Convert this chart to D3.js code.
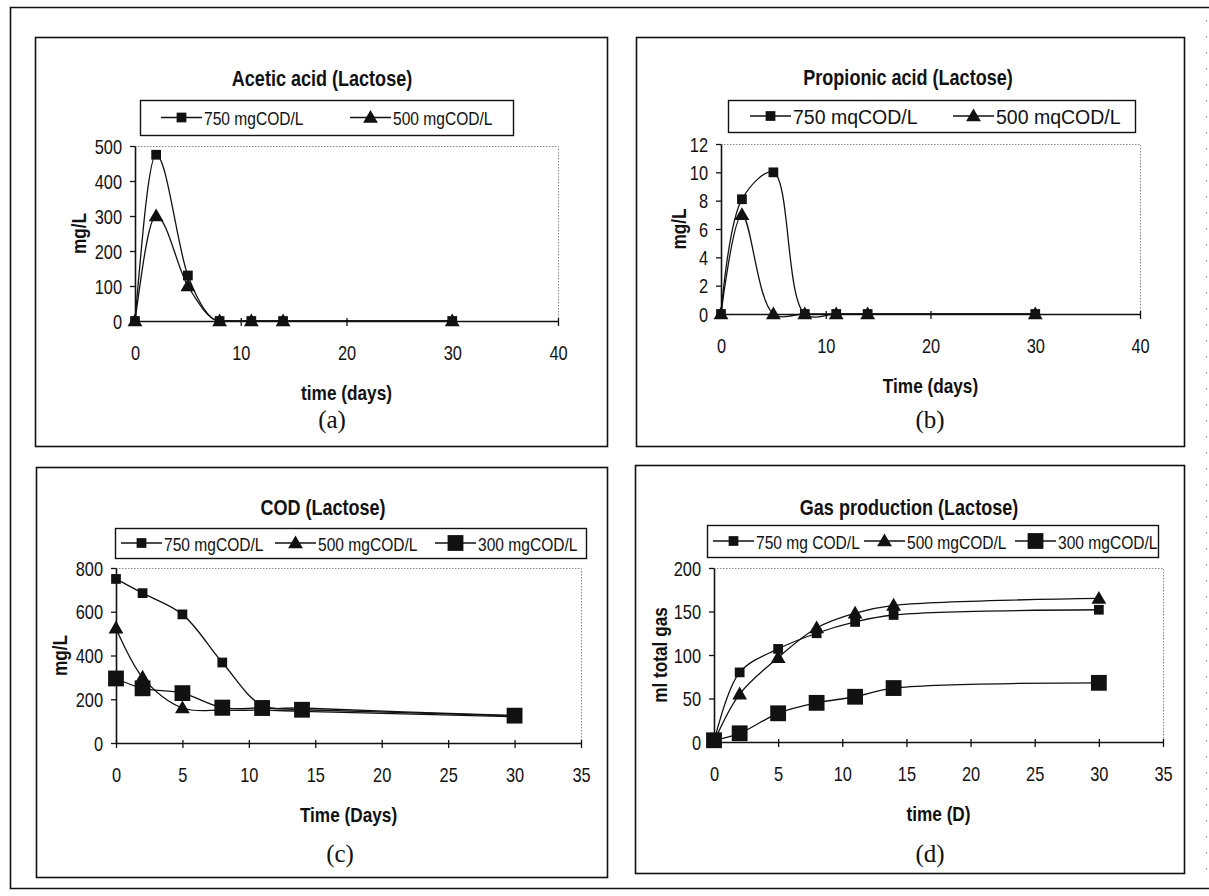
<!DOCTYPE html>
<html>
<head>
<meta charset="utf-8">
<script src="https://cdn.jsdelivr.net/npm/d3@7"></script>
<style>
  html, body { margin: 0; padding: 0; background: #fff; }
  svg { display: block; }
</style>
</head>
<body>
<svg id="fig" width="1209" height="896"></svg>
<script>
// Sampling days shared by every series
const days = [0, 2, 5, 8, 11, 14, 30];

// (a) acetic acid, mg/L
const acetic750 = [0, 475, 130, 0, 0, 0, 0];
const acetic500 = [0, 300, 100, 0, 0, 0, 0];

// (b) propionic acid, mg/L
const propionic750 = [0, 8.1, 10, 0, 0, 0, 0];
const propionic500 = [0, 7, 0, 0, 0, 0, 0];

// (c) COD, mg/L
const cod750 = [750, 685, 588, 368, 172, 160, 125];
const cod500 = [525, 300, 160, 150, 150, 145, 120];
const cod300 = [295, 250, 228, 162, 160, 152, 125];

// (d) cumulative gas, ml
const gas750 = [0, 80, 107, 125, 138, 146, 152];
const gas500 = [0, 55, 97, 131, 148, 157, 165];
const gas300 = [2, 10, 33, 45, 52, 62, 68];

// Axis tick values
const ticksAcetic = [0, 100, 200, 300, 400, 500];
const ticksPropionic = [0, 2, 4, 6, 8, 10, 12];
const ticksCod = [0, 200, 400, 600, 800];
const ticksGas = [0, 50, 100, 150, 200];
const ticksDays40 = [0, 10, 20, 30, 40];
const ticksDays35 = [0, 5, 10, 15, 20, 25, 30, 35];

// Legend entries
const legendAcetic = ["750 mgCOD/L", "500 mgCOD/L"];
const legendPropionic = ["750 mqCOD/L", "500 mqCOD/L"];
const legendCod = ["750 mgCOD/L", "500 mgCOD/L", "300 mgCOD/L"];
const legendGas = ["750 mg COD/L", "500 mgCOD/L", "300 mgCOD/L"];

// Marker kind per series position
const markerKinds = ["square", "triangle", "bigSquare"];

const SANS = "'Liberation Sans', Arial, sans-serif";
const SERIF = "'Liberation Serif', 'Times New Roman', serif";
const NARROW = 0.82; // horizontal squeeze giving an Arial Narrow look

const svg = d3.select("#fig");

function label(g, str, x, y, o) {
  const tr = `translate(${x},${y})` + (o.rotate ? ` rotate(${o.rotate})` : "") + ` scale(${o.sx || 1},1)`;
  return g.append("g").attr("transform", tr)
    .append("text")
    .attr("text-anchor", o.anchor || "middle")
    .attr("dy", "0.35em")
    .attr("font-family", o.family || SANS)
    .attr("font-size", o.size)
    .attr("font-weight", o.weight || "normal")
    .attr("fill", "#111")
    .text(str);
}

function marker(g, kind, cx, cy) {
  const sym = kind === "triangle" ? d3.symbolTriangle : d3.symbolSquare;
  const size = kind === "triangle" ? 95 : (kind === "bigSquare" ? 250 : 95);
  g.append("path")
    .attr("d", d3.symbol(sym, size)())
    .attr("transform", `translate(${cx},${kind === "triangle" ? cy + 1 : cy})`)
    .attr("fill", "#111");
}

// Outer frame: top, left, bottom solid; right edge faint
svg.append("path")
  .attr("d", "M1209,7.5 H10.5 V888.5 H1209")
  .attr("fill", "none").attr("stroke", "#111").attr("stroke-width", 1.6);
svg.append("line")
  .attr("x1", 1206.5).attr("x2", 1206.5).attr("y1", 20).attr("y2", 880)
  .attr("stroke", "#aaa").attr("stroke-width", 1).attr("stroke-dasharray", "2,14");

const panels = [
  {
    title: "Acetic acid (Lactose)", tag: "(a)", yLabel: "mg/L", xLabel: "time (days)",
    series: [acetic750, acetic500], legend: legendAcetic,
    yTicks: ticksAcetic, xTicks: ticksDays40, curve: d3.curveMonotoneX,
    frame: [35, 37, 607, 446], plot: [135, 146, 558, 321],
    titleXY: [322, 78], tagXY: [332, 419], yLabelX: 79,
    legendBox: [140, 100, 513, 135], legendStarts: [161, 350], legendSize: 19, legendSx: NARROW
  },
  {
    title: "Propionic acid (Lactose)", tag: "(b)", yLabel: "mg/L", xLabel: "Time (days)",
    series: [propionic750, propionic500], legend: legendPropionic,
    yTicks: ticksPropionic, xTicks: ticksDays40, curve: d3.curveCatmullRom.alpha(0.5),
    frame: [636, 37, 1184, 446], plot: [721, 144, 1140, 314],
    titleXY: [908, 77], tagXY: [930, 419], yLabelX: 679,
    legendBox: [728, 100, 1135, 132], legendStarts: [750, 953], legendSize: 19.5, legendSx: 1
  },
  {
    title: "COD (Lactose)", tag: "(c)", yLabel: "mg/L", xLabel: "Time (Days)",
    series: [cod750, cod500, cod300], legend: legendCod,
    yTicks: ticksCod, xTicks: ticksDays35, curve: d3.curveCatmullRom.alpha(0.5),
    frame: [36, 467, 607, 877], plot: [116, 568, 581, 743],
    titleXY: [323, 507], tagXY: [340, 853], yLabelX: 60,
    legendBox: [115, 528, 586, 558], legendStarts: [121, 275, 435], legendSize: 19, legendSx: NARROW
  },
  {
    title: "Gas production (Lactose)", tag: "(d)", yLabel: "ml total gas", xLabel: "time (D)",
    series: [gas750, gas500, gas300], legend: legendGas,
    yTicks: ticksGas, xTicks: ticksDays35, curve: d3.curveCatmullRom.alpha(0.5),
    frame: [635, 465, 1184, 873], plot: [714, 568, 1163, 742],
    titleXY: [909, 507], tagXY: [930, 853], yLabelX: 660,
    legendBox: [707, 525, 1158, 557], legendStarts: [713, 864, 1015], legendSize: 19, legendSx: NARROW
  }
];

panels.forEach(drawPanel);

function drawPanel(p) {
  const g = svg.append("g");
  const [fx0, fy0, fx1, fy1] = p.frame;
  const [px0, py0, px1, py1] = p.plot;

  // Panel frame
  g.append("rect")
    .attr("x", fx0 + 0.5).attr("y", fy0 + 0.5)
    .attr("width", fx1 - fx0).attr("height", fy1 - fy0)
    .attr("fill", "#fff").attr("stroke", "#111").attr("stroke-width", 1.6);

  const x = d3.scaleLinear()
    .domain([p.xTicks[0], p.xTicks[p.xTicks.length - 1]])
    .range([px0, px1]);
  const y = d3.scaleLinear()
    .domain([p.yTicks[0], p.yTicks[p.yTicks.length - 1]])
    .range([py1, py0]);

  // Plot-area outline (dotted grey on top and right)
  g.append("path")
    .attr("d", `M${px0},${py0 + 0.5} H${px1 + 0.5} V${py1}`)
    .attr("fill", "none").attr("stroke", "#888").attr("stroke-width", 1)
    .attr("stroke-dasharray", "1.5,1.5");

  // Title
  label(g, p.title, p.titleXY[0], p.titleXY[1], { size: 22, weight: "bold", sx: NARROW });

  // Legend
  const [lx0, ly0, lx1, ly1] = p.legendBox;
  g.append("rect")
    .attr("x", lx0 + 0.5).attr("y", ly0 + 0.5)
    .attr("width", lx1 - lx0).attr("height", ly1 - ly0)
    .attr("fill", "#fff").attr("stroke", "#111").attr("stroke-width", 1.4);
  const ly = (ly0 + ly1) / 2;
  const sampleLen = 41;
  p.legend.forEach((name, i) => {
    const sx = p.legendStarts[i];
    g.append("line")
      .attr("x1", sx).attr("x2", sx + sampleLen).attr("y1", ly).attr("y2", ly)
      .attr("stroke", "#111").attr("stroke-width", 1.4);
    marker(g, markerKinds[i], sx + sampleLen / 2, ly);
    label(g, name, sx + sampleLen + 2, ly + 1, { size: p.legendSize, sx: p.legendSx, anchor: "start" });
  });

  // Axes
  const yAxis = d3.axisLeft(y).tickValues(p.yTicks).tickSizeInner(5).tickSizeOuter(0).tickFormat(d3.format("d"));
  const xAxis = d3.axisBottom(x).tickValues(p.xTicks).tickSizeInner(5).tickSizeOuter(0).tickFormat(d3.format("d"));

  const ya = g.append("g").attr("transform", `translate(${px0},0)`).call(yAxis);
  const xa = g.append("g").attr("transform", `translate(0,${py1})`).call(xAxis);

  [ya, xa].forEach(a => {
    a.select(".domain").attr("stroke", "#111").attr("stroke-width", 1.6);
    a.selectAll(".tick line").attr("stroke", "#111").attr("stroke-width", 1.3);
  });
  xa.selectAll(".tick line").attr("y1", -3);

  ya.selectAll(".tick text")
    .attr("x", 0).attr("dy", "0.35em")
    .attr("transform", `translate(-13,0) scale(${NARROW},1)`)
    .attr("font-family", SANS).attr("font-size", 20).attr("fill", "#111");
  xa.selectAll(".tick text")
    .attr("y", 0).attr("dy", "0.35em")
    .attr("transform", `translate(0,32) scale(${NARROW},1)`)
    .attr("font-family", SANS).attr("font-size", 20).attr("fill", "#111");

  // Axis titles
  label(g, p.xLabel, (px0 + px1) / 2, py1 + 72, { size: 21, weight: "bold", sx: NARROW });
  label(g, p.yLabel, p.yLabelX, (py0 + py1) / 2, { size: 21, weight: "bold", sx: NARROW, rotate: -90 });

  // Panel tag
  label(g, p.tag, p.tagXY[0], p.tagXY[1], { size: 25, family: SERIF });

  // Series: lines, then markers (first series drawn after the second so it stays on top)
  const line = d3.line()
    .x(d => x(d[0]))
    .y(d => y(d[1]))
    .curve(p.curve);

  const order = p.series.length === 3 ? [1, 0, 2] : [1, 0];
  order.forEach(i => {
    const pts = days.map((d, k) => [d, p.series[i][k]]);
    g.append("path")
      .attr("d", line(pts))
      .attr("fill", "none").attr("stroke", "#111").attr("stroke-width", 1.3);
  });
  order.forEach(i => {
    days.forEach((d, k) => marker(g, markerKinds[i], x(d), y(p.series[i][k])));
  });
}
</script>
</body>
</html>
